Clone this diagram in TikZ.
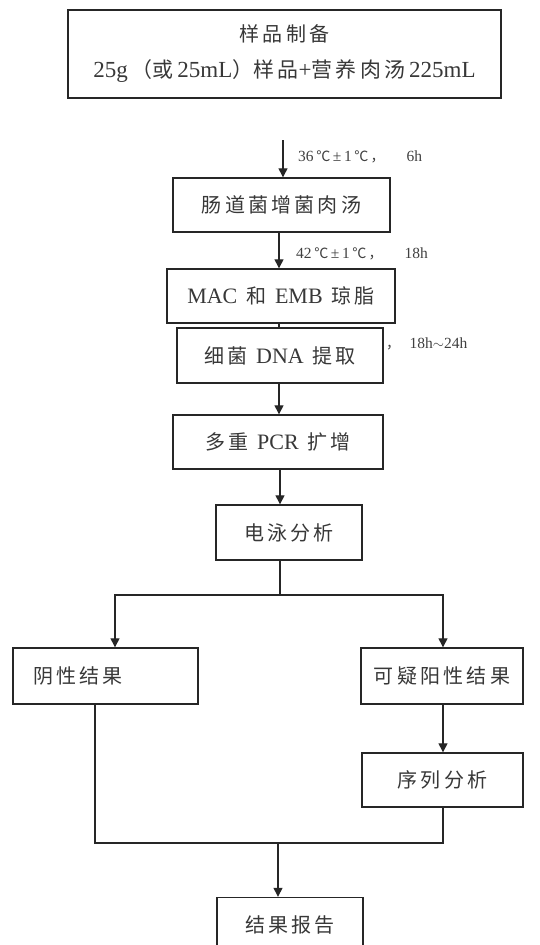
\documentclass[tikz,border=0pt]{standalone}
\usepackage{fontspec}
\setmainfont{Liberation Serif}
\newfontfamily\cjk[LetterSpace=16,Scale=0.91]{Noto Sans CJK SC}
\newfontfamily\cjkn[Scale=0.91]{Noto Sans CJK SC}
\newcommand{\gp}{\hspace{0.4em}}
\usetikzlibrary{arrows.meta}
\begin{document}
\begin{tikzpicture}[x=1pt,y=-1pt,
  box/.style={draw=black!85, line width=1.4pt, fill=white, inner sep=0pt,
    font=\fontsize{22}{26}\selectfont, text=black!78},
  arr/.style={-{Triangle[width=9pt,length=9pt]}, line width=1.3pt, draw=black!85},
  ln/.style={line width=1.3pt, draw=black!85},
  lab/.style={font=\fontsize{15.5}{17}\selectfont, text=black!75, anchor=west, inner sep=0pt}]
\useasboundingbox (0,0) rectangle (539,945);
\clip (0,0) rectangle (539,945);

% boxes
\node[box, minimum width=433pt, minimum height=88pt, align=center,
  font=\fontsize{22}{36}\selectfont] (top) at (284.5,54)
  {{\cjk 样品制备}\\ {\fontsize{23}{36}\selectfont 25g\,{\cjkn （或}\,25mL{\cjkn ）}{\cjk 样品}+{\cjk 营养肉汤}\,225mL}};
\node[box, minimum width=217pt, minimum height=54pt] (b2) at (281.5,205) {\cjk 肠道菌增菌肉汤};
\node[box, minimum width=228pt, minimum height=54pt] (b3) at (281,296) {MAC\gp{\cjk 和}\gp EMB\gp{\cjk 琼脂}};
\node[box, minimum width=206pt, minimum height=55pt] (b4) at (280,355.5) {{\cjk 细菌}\gp DNA\gp{\cjk 提取}};
\node[box, minimum width=210pt, minimum height=54pt] (b5) at (278,442) {{\cjk 多重}\gp PCR\gp{\cjk 扩增}};
\node[box, minimum width=146pt, minimum height=55pt] (b6) at (289,532.5) {\cjk 电泳分析};
\node[box, minimum height=56pt, text width=145pt, inner xsep=20pt, align=left] (b7) at (105.5,676) {\cjk 阴性结果};
\node[box, minimum width=162pt, minimum height=56pt] (b8) at (442,676) {\cjk 可疑阳性结果};
\node[box, minimum width=161pt, minimum height=54pt] (b9) at (442.5,780) {\cjk 序列分析};
\node[box, minimum width=146pt, minimum height=55pt] (b10) at (290,925) {\cjk 结果报告};

% labels
\node[lab] (l1) at (298,157) {36\,{\cjk ℃}\,±\,1\,{\cjk ℃，}\hspace{1.4em}6h};
\node[lab] (l2) at (296,254) {42\,{\cjk ℃}\,±\,1\,{\cjk ℃，}\hspace{1.4em}18h};
\node[lab] (l3) at (386,344) {{\cjkn ，}\hspace{0.6em}18h$\sim$24h};

% spine
\coordinate (s1) at (283,140);
\coordinate (sp) at (279,0);
\draw[arr] (s1) -- (s1 |- b2.north);
\draw[arr] (b2.south -| sp) -- (b3.north -| sp);
\draw[ln] (b3.south -| sp) -- (b4.north -| sp);
\draw[arr] (b4.south -| sp) -- (b5.north -| sp);
\coordinate (sp2) at (280,0);
\draw[arr] (b5.south -| sp2) -- (b6.north -| sp2);

% branch
\coordinate (br) at (280,595);
\coordinate (bl) at (115,595);
\coordinate (brr) at (443,595);
\draw[ln] (b6.south -| br) -- (br);
\draw[arr] (br) -- (bl) -- (bl |- b7.north);
\draw[arr] (br) -- (brr) -- (brr |- b8.north);

% merge
\coordinate (ml) at (95,843);
\coordinate (mr) at (443,843);
\coordinate (mm) at (278,843);
\draw[arr] (b8.south -| mr) -- (b9.north -| mr);
\draw[ln] (b7.south -| ml) -- (ml) -- (mr) -- (b9.south -| mr);
\draw[arr] (mm) -- (mm |- b10.north);
\end{tikzpicture}
\end{document}
